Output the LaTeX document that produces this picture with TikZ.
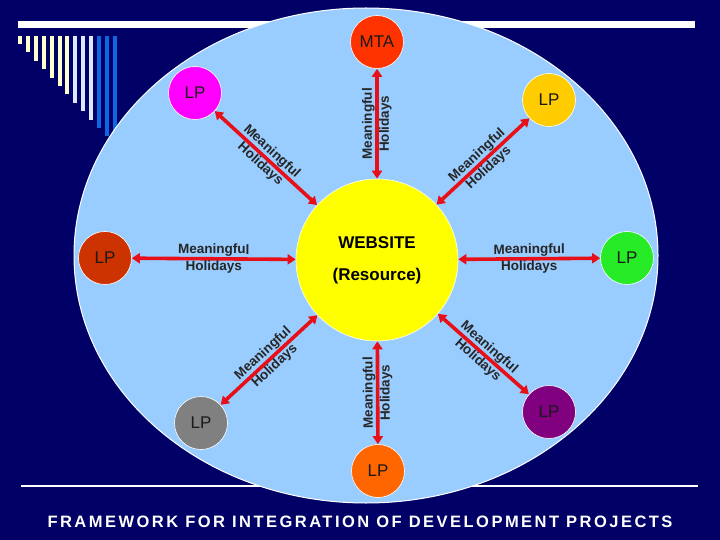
\documentclass[tikz,border=0pt]{standalone}
\usepackage[RGB]{xcolor}
\usepackage{fontspec}
\setmainfont{Liberation Sans}
\newfontfamily\bannerfont[LetterSpace=15]{Liberation Sans}
\usetikzlibrary{arrows.meta}
\definecolor{bg}{RGB}{0,0,102}
\definecolor{oval}{RGB}{153,204,255}
\definecolor{web}{RGB}{255,255,0}
\definecolor{link}{RGB}{232,16,24}
\definecolor{M}{RGB}{255,51,0}
\definecolor{A}{RGB}{255,0,255}
\definecolor{B}{RGB}{255,204,0}
\definecolor{C}{RGB}{204,51,0}
\definecolor{D}{RGB}{40,235,40}
\definecolor{E}{RGB}{128,128,128}
\definecolor{F}{RGB}{128,0,128}
\definecolor{G}{RGB}{255,102,0}
\definecolor{cream}{RGB}{255,255,204}
\definecolor{pale}{RGB}{221,232,255}
\definecolor{bar}{RGB}{16,102,224}
\tikzset{
  lpnode/.style={circle,draw=white,line width=0.6pt,minimum size=53pt,inner sep=0pt,
    text=black!90,font=\fontsize{17}{17}\selectfont},
  linkarrow/.style={draw=link,line width=3.6pt,
    {Triangle[length=8pt,width=10pt]}-{Triangle[length=8pt,width=10pt]}},
  tag/.style={font=\bfseries\fontsize{13.5}{17}\selectfont,align=center,text=black!85,sloped}
}
\newcommand{\lp}[4]{\node[lpnode,fill=#2] (#1) at (#3,#4) {LP};}
\newcommand{\holidaylink}[1]{\path[linkarrow] (web) -- (#1) node[tag,midway] {Meaningful\\Holidays};}

\begin{document}
\begin{tikzpicture}[x=1pt,y=-1pt]
\useasboundingbox (0,0) rectangle (720,540);
\fill[bg] (0,0) rectangle (720,540);
\foreach \i/\c in {0/cream,1/cream,2/cream,3/cream,4/cream,5/cream,6/cream,7/pale,8/pale,9/pale,10/bar,11/bar,12/bar}{
  \fill[\c] (18+7.9*\i,36) rectangle ++(4,8+8.4*\i);
}
\fill[white] (18,21) rectangle (695,28);
\draw[white,line width=2pt] (21,486) -- (698,486);
\draw[fill=oval,draw=white,line width=1pt] (366,255.5) ellipse [x radius=292,y radius=247.5];
\node[circle,draw=white,line width=0.6pt,fill=web,minimum size=162pt,inner sep=0pt,align=center,
  font=\bfseries\fontsize{17}{32}\selectfont] (web) at (377,260) {WEBSITE\\(Resource)};
\node[lpnode,fill=M] (mta) at (377,42) {MTA};
\lp{lpa}{A}{195}{93}
\lp{lpb}{B}{549}{100}
\lp{lpc}{C}{105}{258}
\lp{lpd}{D}{627}{258}
\lp{lpe}{E}{201}{423}
\lp{lpf}{F}{549}{412}
\lp{lpg}{G}{378}{471}
\holidaylink{mta}
\holidaylink{lpa}
\holidaylink{lpb}
\holidaylink{lpc}
\holidaylink{lpd}
\holidaylink{lpe}
\holidaylink{lpf}
\path[linkarrow] (web) -- (lpg) node[tag,midway,rotate=180] {Meaningful\\Holidays};
\node[text=white,font=\bannerfont\bfseries\fontsize{16.5}{16.5}\selectfont] (banner) at (360,522)
  {FRAMEWORK FOR INTEGRATION OF DEVELOPMENT PROJECTS};
\end{tikzpicture}
\end{document}
